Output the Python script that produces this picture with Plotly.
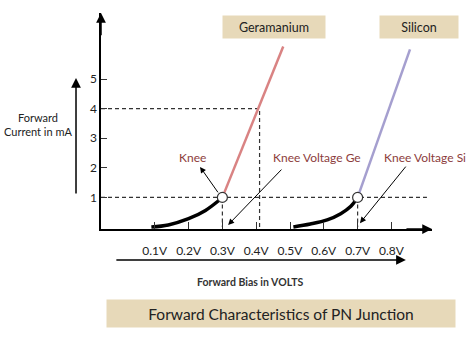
import plotly.graph_objects as go

# ---- data ----
ge_curve_v = [0.09, 0.14, 0.20, 0.25, 0.29, 0.30]
ge_curve_i = [0.0, 0.07, 0.28, 0.56, 0.90, 1.0]
si_curve_v = [0.51, 0.56, 0.61, 0.65, 0.68, 0.70]
si_curve_i = [0.0, 0.10, 0.24, 0.45, 0.70, 1.0]
ge_line_v = [0.30, 0.48]
ge_line_i = [1.0, 6.1]
si_line_v = [0.70, 0.855]
si_line_i = [1.0, 6.0]
knee_v = [0.30, 0.70]
knee_i = [1.0, 1.0]
x_ticks = [0.1, 0.2, 0.3, 0.4, 0.5, 0.6, 0.7, 0.8]
x_labels = ["0.1V", "0.2V", "0.3V", "0.4V", "0.5V", "0.6V", "0.7V", "0.8V"]
y_ticks = [1, 2, 3, 4, 5]
y_labels = ["1", "2", "3", "4", "5"]
ref_v = 0.41      # voltage at 4 mA on the Ge line
ref_i = 4
x_min, x_max = -0.059, 0.920
y_min, y_max = -0.068, 7.23

font = "Lato, Open Sans, sans-serif"
red_txt = "#8c3c3c"
tan = "#e7d9b9"

fig = go.Figure()

dash_style = dict(color="#333", width=1.2, dash="4px,3px")
# dashed guide lines
fig.add_trace(go.Scatter(x=[x_min, ref_v, ref_v], y=[ref_i, ref_i, 0], mode="lines", line=dash_style, hoverinfo="skip"))
fig.add_trace(go.Scatter(x=[x_min, 0.905], y=[1, 1], mode="lines", line=dash_style, hoverinfo="skip"))
fig.add_trace(go.Scatter(x=[knee_v[0], knee_v[0]], y=[1, 0], mode="lines", line=dash_style, hoverinfo="skip"))
fig.add_trace(go.Scatter(x=[knee_v[1], knee_v[1]], y=[1, 0], mode="lines", line=dash_style, hoverinfo="skip"))

# steep lines
fig.add_trace(go.Scatter(x=ge_line_v, y=ge_line_i, mode="lines", line=dict(color="#d98383", width=2.5), hoverinfo="skip"))
fig.add_trace(go.Scatter(x=si_line_v, y=si_line_i, mode="lines", line=dict(color="#a59fcf", width=2.5), hoverinfo="skip"))

# knee curves
fig.add_trace(go.Scatter(x=ge_curve_v, y=ge_curve_i, mode="lines", line=dict(color="black", width=3.5, shape="spline"), hoverinfo="skip"))
fig.add_trace(go.Scatter(x=si_curve_v, y=si_curve_i, mode="lines", line=dict(color="black", width=3.5, shape="spline"), hoverinfo="skip"))

# knee points
fig.add_trace(go.Scatter(x=knee_v, y=knee_i, mode="markers",
                         marker=dict(size=10, color="white", line=dict(color="#333", width=1.2)), hoverinfo="skip"))

ann = []
def arrow(x, y, ax, ay, **kw):
    d = dict(x=x, y=y, ax=ax, ay=ay, xref="x", yref="y", axref="x", ayref="y",
             showarrow=True, arrowhead=2, arrowsize=1.2, arrowwidth=1, arrowcolor="black", text="", standoff=0)
    d.update(kw)
    ann.append(d)

# axis arrowheads
arrow(x_min, y_max, x_min, y_max - 0.8, arrowsize=1.3, arrowwidth=1.5)
arrow(x_max, y_min, x_max - 0.08, y_min, arrowsize=1.3, arrowwidth=1.5)
# pointer arrows
arrow(0.234, 2.03, 0.29, 1.12)
arrow(0.317, 0.07, 0.479, 1.99)
arrow(0.707, 0.13, 0.846, 2.09)

def label(x, y, text, ref, size=12, color=red_txt, fam=font, **kw):
    d = dict(x=x, y=y, xref=ref, yref=ref if ref == "paper" else "y", text=text, showarrow=False,
             xanchor="center", yanchor="middle", font=dict(family=fam, size=size, color=color))
    d.update(kw)
    ann.append(d)

# labels in data coords
label(0.213, 2.36, "Knee", "x")
label(0.58, 2.36, "Knee Voltage Ge", "x")
label(0.899, 2.36, "Knee Voltage Si", "x")

# boxes / labels in paper coords
label(0.523, 0.935, "Geramanium", "paper", size=12.5, color="#222", bgcolor=tan, width=100, height=20, borderpad=1)
label(0.961, 0.935, "Silicon", "paper", size=12.5, color="#222", bgcolor=tan, width=76, height=20, borderpad=1)
label(0.544, -0.391, "Forward Characteristics of PN Junction", "paper", size=15.5, color="#222",
      bgcolor=tan, width=346, height=25, borderpad=1)
label(0.450, -0.245, "<b>Forward Bias in VOLTS</b>", "paper", size=10.5, color="#333")
label(-0.190, 0.486, "Forward<br>Current in mA", "paper", size=11, color="#222")

# outer arrows
ann.append(dict(x=-0.0755, y=0.699, xref="paper", yref="paper", ax=0, ay=117, text="",
                showarrow=True, arrowhead=2, arrowsize=1.3, arrowwidth=1.5, arrowcolor="black", standoff=0))
ann.append(dict(x=0.921, y=-0.1435, xref="paper", yref="paper", ax=-291, ay=0, text="",
                showarrow=True, arrowhead=2, arrowsize=1.3, arrowwidth=1.5, arrowcolor="black", standoff=0))

fig.update_layout(
    width=474, height=338,
    margin=dict(l=101, r=42, t=13, b=109),
    paper_bgcolor="white", plot_bgcolor="white",
    showlegend=False,
    annotations=ann,
    xaxis=dict(range=[x_min, x_max], showgrid=False, zeroline=False, showline=True, linecolor="black", linewidth=1.5,
               tickvals=x_ticks, ticktext=x_labels, ticks="inside", ticklen=7, tickcolor="#333", tickwidth=1,
               ticklabelstandoff=10, tickfont=dict(family=font, size=12, color="#222")),
    yaxis=dict(range=[y_min, y_max], showgrid=False, zeroline=False, showline=True, linecolor="black", linewidth=1.5,
               tickvals=y_ticks, ticktext=y_labels, ticks="inside", ticklen=6, tickcolor="#333", tickwidth=1,
               tickfont=dict(family=font, size=12, color="#222")),
)

fig.write_html("out.html")
